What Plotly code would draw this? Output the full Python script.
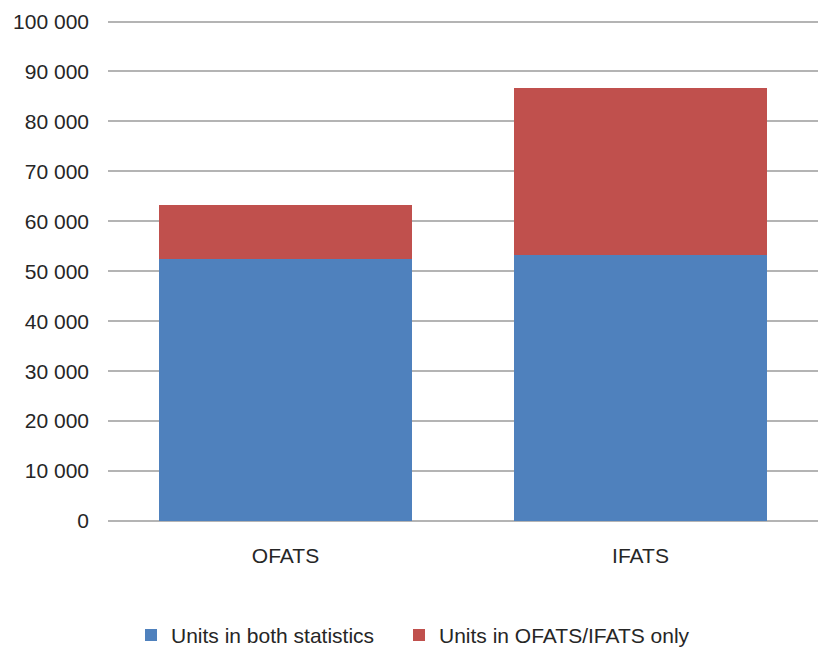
import plotly.graph_objects as go

# Units counted in outward (OFATS) and inward (IFATS) FATS statistics
categories = ["OFATS", "IFATS"]
both_stats = [52400, 53200]
only_one = [10800, 33500]
series_names = ["Units in both statistics", "Units in OFATS/IFATS only"]
tick_values = list(range(0, 100001, 10000))

font_family = "Liberation Sans, Arial, sans-serif"

fig = go.Figure()
fig.add_trace(go.Bar(
    x=categories, y=both_stats, name=series_names[0],
    marker=dict(color="#4F81BD", line=dict(width=0)),
    legend="legend",
))
fig.add_trace(go.Bar(
    x=categories, y=only_one, name=series_names[1],
    marker=dict(color="#C0504D", line=dict(width=0)),
    legend="legend2",
))

legend_style = dict(
    orientation="h",
    xref="container", xanchor="left",
    y=-0.228, yref="paper", yanchor="middle",
    font=dict(size=21, color="#262626"),
    itemwidth=30,
)

fig.update_layout(
    barmode="stack",
    bargap=0.287,
    width=819, height=649,
    margin=dict(l=108, r=1, t=19.5, b=127.5, autoexpand=False),
    paper_bgcolor="white",
    plot_bgcolor="white",
    separators=". ",
    font=dict(family=font_family, size=21, color="#262626"),
    legend=dict(x=131 / 819, **legend_style),
    legend2=dict(x=399 / 819, **legend_style),
    showlegend=True,
)
fig.update_yaxes(
    range=[0, 100300],
    tickvals=tick_values,
    tickformat=",d",
    showgrid=True, gridcolor="#B4B4B4", gridwidth=1.5,
    zeroline=True, zerolinecolor="#B4B4B4", zerolinewidth=1.5,
    showline=False,
    ticks="", ticklabelstandoff=18,
)
fig.update_xaxes(
    showline=False, showgrid=False, ticks="",
    ticklabelstandoff=20,
)

fig.write_html("out.html")
